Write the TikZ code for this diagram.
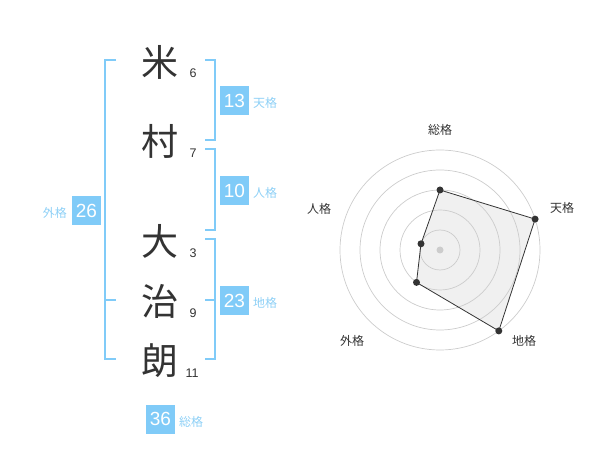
\documentclass[tikz,border=0pt]{standalone}
\usepackage{fontspec}
\setmainfont{Liberation Sans}
\newfontfamily\cjk{Noto Sans CJK JP}
\definecolor{bl}{HTML}{80CBF8}
\definecolor{bltxt}{HTML}{8ED0F6}
\definecolor{dk}{HTML}{333333}
\definecolor{ring}{HTML}{CCCCCC}
\definecolor{area}{HTML}{F0F0F0}
\begin{document}
\begin{tikzpicture}[x=1pt,y=-1pt,
  kanji/.style={font=\cjk\fontsize{37}{37}\selectfont,text=dk,inner sep=0pt},
  stroke/.style={font=\fontsize{12.5}{12.5}\selectfont,text=dk,inner sep=0pt},
  numbox/.style={fill=bl,text=white,minimum width=29pt,minimum height=29pt,inner sep=0pt,font=\fontsize{19}{19}\selectfont},
  lab/.style={font=\cjk\fontsize{12}{12}\selectfont,text=bltxt,inner sep=0pt},
  brk/.style={draw=bl,line width=2pt},
  rlab/.style={font=\cjk\fontsize{12}{12}\selectfont,text=dk,inner sep=0pt},
  dot/.style={circle,fill=dk,inner sep=0pt,minimum size=7pt}]
\useasboundingbox (0,0) rectangle (600,470);
% characters
\node[kanji] (c1) at (160,62) {米};
\node[kanji] (c2) at (160,141) {村};
\node[kanji] (c3) at (160,241) {大};
\node[kanji] (c4) at (160,301) {治};
\node[kanji] (c5) at (160,361) {朗};
\node[stroke] (n1) at (193,73) {6};
\node[stroke] (n2) at (193,153) {7};
\node[stroke] (n3) at (193,253) {3};
\node[stroke] (n4) at (193,313) {9};
\node[stroke] (n5) at (192,373) {11};
% brackets
\draw[brk] (205,60) -- (215,60) -- (215,140) -- (205,140);
\draw[brk] (205,149) -- (215,149) -- (215,230) -- (205,230);
\draw[brk] (205,239) -- (215,239) -- (215,359) -- (205,359);
\draw[brk] (205,300) -- (215,300);
\draw[brk] (116,60) -- (105,60) -- (105,359) -- (116,359);
\draw[brk] (105,300) -- (116,300);
% boxes
\node[numbox] (b13) at (234.5,100.5) {13};
\node[lab,anchor=west] (l13) at (253,103) {天格};
\node[numbox] (b10) at (234.5,190.5) {10};
\node[lab,anchor=west] (l10) at (253,193) {人格};
\node[numbox] (b23) at (234.5,300.5) {23};
\node[lab,anchor=west] (l23) at (253,303) {地格};
\node[numbox] (b26) at (86.5,210.5) {26};
\node[lab,anchor=east] (l26) at (67,213) {外格};
\node[numbox] (b36) at (160.5,419) {36};
\node[lab,anchor=west] (l36) at (179,422) {総格};
% radar
\coordinate (ctr) at (440,250);
\coordinate (p1) at (440,190);
\coordinate (p2) at (535.1,219.1);
\coordinate (p3) at (498.8,330.9);
\coordinate (p4) at (416.5,282.4);
\coordinate (p5) at (421.0,243.8);
\fill[area] (p1) -- (p2) -- (p3) -- (p4) -- (p5) -- cycle;
\foreach \r in {20,40,60,80,100} \draw[ring,line width=0.7pt] (ctr) circle (\r);
\fill[ring] (ctr) circle (3.5);
\draw[dk,line width=0.8pt] (p1) -- (p2) -- (p3) -- (p4) -- (p5) -- cycle;
\foreach \p in {p1,p2,p3,p4,p5} \node[dot] at (\p) {};
\node[rlab] (r1) at (440,130) {総格};
\node[rlab] (r2) at (562,208) {天格};
\node[rlab] (r3) at (524,341) {地格};
\node[rlab] (r4) at (352,341) {外格};
\node[rlab] (r5) at (319,209) {人格};
\end{tikzpicture}
\end{document}
